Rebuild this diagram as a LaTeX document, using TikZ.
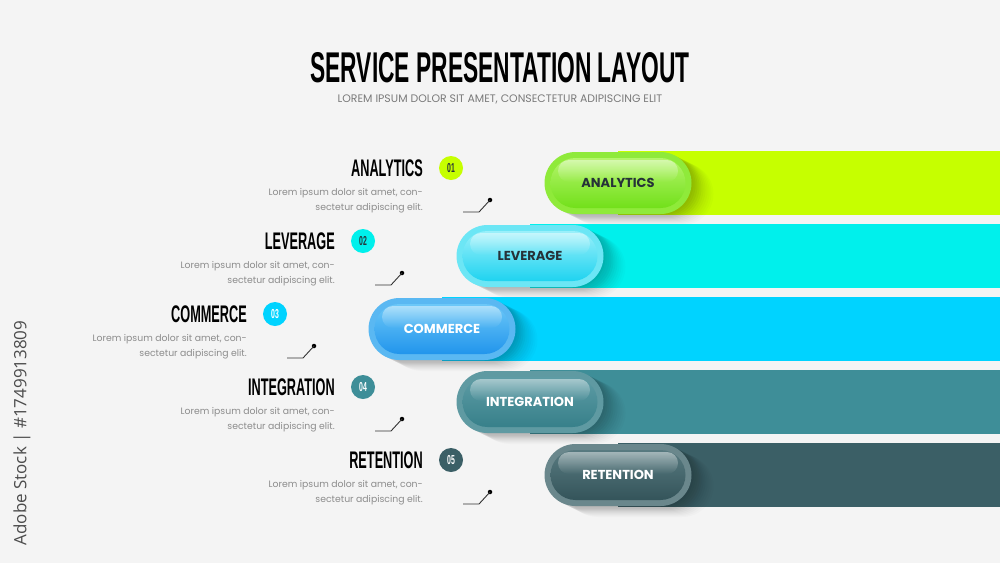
\documentclass[tikz,border=0pt]{standalone}
\usepackage{fontspec}
\setmainfont{Poppins}
\newfontfamily\headfont{Liberation Sans Bold}[FakeStretch=0.53]
\newfontfamily\stockfont{Open Sans}
\usetikzlibrary{shapes.misc,fadings}
\definecolor{bggrey}{HTML}{F4F4F4}
\definecolor{bodygrey}{HTML}{8C8C8C}
\definecolor{subgrey}{HTML}{7A7A7A}
\definecolor{darktext}{HTML}{263238}
\definecolor{limebar}{HTML}{C6FF00}
\definecolor{limerim}{HTML}{8FEA3A}
\definecolor{limetop}{HTML}{B4F56B}
\definecolor{limebot}{HTML}{72E01A}
\definecolor{aquabar}{HTML}{00F0EC}
\definecolor{aquarim}{HTML}{6CE6F5}
\definecolor{aquatop}{HTML}{9AF0FA}
\definecolor{aquabot}{HTML}{1FD3F0}
\definecolor{skybar}{HTML}{00D3FF}
\definecolor{skyrim}{HTML}{5AB8F2}
\definecolor{skytop}{HTML}{6CC8F8}
\definecolor{skybot}{HTML}{2195EC}
\definecolor{tealbar}{HTML}{3E8E98}
\definecolor{tealrim}{HTML}{5F9AA2}
\definecolor{tealtop}{HTML}{5E9CA5}
\definecolor{tealbot}{HTML}{37808A}
\definecolor{slatebar}{HTML}{3B5F66}
\definecolor{slaterim}{HTML}{6A878C}
\definecolor{slatetop}{HTML}{587A80}
\definecolor{slatebot}{HTML}{34545A}

\begin{document}
\begin{tikzpicture}[x=1pt,y=-1pt,
  pill/.style={rounded rectangle, minimum width=147pt, minimum height=62pt, inner sep=0pt,
    preaction={fill=black, opacity=0.03, transform canvas={xshift=2pt, yshift=-1pt}},
    preaction={fill=black, opacity=0.03, transform canvas={xshift=4pt, yshift=-2pt}},
    preaction={fill=black, opacity=0.03, transform canvas={xshift=6pt, yshift=-3pt}},
    preaction={fill=black, opacity=0.03, transform canvas={xshift=8pt, yshift=-4pt}},
    preaction={fill=black, opacity=0.03, transform canvas={xshift=10pt, yshift=-5pt}},
    preaction={fill=black, opacity=0.025, transform canvas={xshift=12pt, yshift=-6pt}},
    preaction={fill=black, opacity=0.025, transform canvas={xshift=14pt, yshift=-7pt}},
    preaction={fill=black, opacity=0.02, transform canvas={xshift=16pt, yshift=-8pt}},
    preaction={fill=black, opacity=0.02, transform canvas={xshift=18pt, yshift=-9pt}},
    preaction={fill=black, opacity=0.015, transform canvas={xshift=20pt, yshift=-10pt}},
    preaction={fill=black, opacity=0.015, transform canvas={xshift=22pt, yshift=-11pt}}},
  pillcore/.style={rounded rectangle, minimum width=135pt, minimum height=50pt, inner sep=0pt},
  gloss/.style={rounded rectangle, minimum width=120pt, minimum height=22pt, inner sep=0pt,
    fill=white, fill opacity=0.45, path fading=south},
  plabel/.style={inner sep=0pt, font=\bfseries\fontsize{13}{13}\selectfont},
  numdot/.style={circle, minimum size=24pt, inner sep=0pt, font=\headfont\fontsize{13}{13}\selectfont},
  headline/.style={anchor=east, inner sep=0pt, font=\headfont\fontsize{24}{24}\selectfont},
  blurb/.style={anchor=north east, align=right, inner sep=0pt, text=bodygrey, font=\fontsize{9.3}{15}\selectfont},
  tick/.style={draw=black!80, line width=0.9pt},
  tickdot/.style={circle, fill=black, minimum size=4.5pt, inner sep=0pt}]
  \fill[bggrey] (0,0) rectangle (1000,563);
  \useasboundingbox (0,0) rectangle (1000,563);

  \node (title) at (500,68) {\headfont\fontsize{43}{43}\selectfont SERVICE PRESENTATION LAYOUT};
  \node[text=subgrey] (subtitle) at (500,99) {\fontsize{10.9}{11}\selectfont LOREM IPSUM DOLOR SIT AMET, CONSECTETUR ADIPISCING ELIT};
  \node[rotate=90, text=black!70] (stock) at (22,433) {\stockfont\fontsize{17}{17}\selectfont Adobe Stock | \#1749913809};

  % analytics
  \fill[limebar] (618,151) rectangle (1000,215);
  \node[pill, fill=limerim] (p1) at (618,183) {};
  \node[pillcore, top color=limetop, bottom color=limebot] (c1) at (p1) {};
  \node[gloss] (g1) at ([yshift=12pt]p1) {};
  \node[plabel, text=darktext] (l1) at (p1) {ANALYTICS};
  \node[numdot, fill=limebar, text=darktext] (n1) at (451,168) {01};
  \node[headline] (h1) at (423,168) {ANALYTICS};
  \node[blurb] (b1) at (423,188) {Lorem ipsum dolor sit amet, con-\\sectetur adipiscing elit.};
  \coordinate (t1a) at (463,212);
  \coordinate (t1b) at (479,212);
  \node[tickdot] (d1) at (490,200) {};
  \draw[tick] (t1a) -- (t1b) -- (d1.center);

  % leverage
  \fill[aquabar] (530,224) rectangle (1000,288);
  \node[pill, fill=aquarim] (p2) at (530,256) {};
  \node[pillcore, top color=aquatop, bottom color=aquabot] (c2) at (p2) {};
  \node[gloss] (g2) at ([yshift=12pt]p2) {};
  \node[plabel, text=darktext] (l2) at (p2) {LEVERAGE};
  \node[numdot, fill=aquabar, text=darktext] (n2) at (363,241) {02};
  \node[headline] (h2) at (335,241) {LEVERAGE};
  \node[blurb] (b2) at (335,261) {Lorem ipsum dolor sit amet, con-\\sectetur adipiscing elit.};
  \coordinate (t2a) at (375,285);
  \coordinate (t2b) at (391,285);
  \node[tickdot] (d2) at (402,273) {};
  \draw[tick] (t2a) -- (t2b) -- (d2.center);

  % commerce
  \fill[skybar] (442,297) rectangle (1000,361);
  \node[pill, fill=skyrim] (p3) at (442,329) {};
  \node[pillcore, top color=skytop, bottom color=skybot] (c3) at (p3) {};
  \node[gloss] (g3) at ([yshift=12pt]p3) {};
  \node[plabel, text=white] (l3) at (p3) {COMMERCE};
  \node[numdot, fill=skybar, text=white] (n3) at (275,314) {03};
  \node[headline] (h3) at (247,314) {COMMERCE};
  \node[blurb] (b3) at (247,334) {Lorem ipsum dolor sit amet, con-\\sectetur adipiscing elit.};
  \coordinate (t3a) at (287,358);
  \coordinate (t3b) at (303,358);
  \node[tickdot] (d3) at (314,346) {};
  \draw[tick] (t3a) -- (t3b) -- (d3.center);

  % integration
  \fill[tealbar] (530,370) rectangle (1000,434);
  \node[pill, fill=tealrim] (p4) at (530,402) {};
  \node[pillcore, top color=tealtop, bottom color=tealbot] (c4) at (p4) {};
  \node[gloss] (g4) at ([yshift=12pt]p4) {};
  \node[plabel, text=white] (l4) at (p4) {INTEGRATION};
  \node[numdot, fill=tealbar, text=white] (n4) at (363,387) {04};
  \node[headline] (h4) at (335,387) {INTEGRATION};
  \node[blurb] (b4) at (335,407) {Lorem ipsum dolor sit amet, con-\\sectetur adipiscing elit.};
  \coordinate (t4a) at (375,431);
  \coordinate (t4b) at (391,431);
  \node[tickdot] (d4) at (402,419) {};
  \draw[tick] (t4a) -- (t4b) -- (d4.center);

  % retention
  \fill[slatebar] (618,443) rectangle (1000,507);
  \node[pill, fill=slaterim] (p5) at (618,475) {};
  \node[pillcore, top color=slatetop, bottom color=slatebot] (c5) at (p5) {};
  \node[gloss] (g5) at ([yshift=12pt]p5) {};
  \node[plabel, text=white] (l5) at (p5) {RETENTION};
  \node[numdot, fill=slatebar, text=white] (n5) at (451,460) {05};
  \node[headline] (h5) at (423,460) {RETENTION};
  \node[blurb] (b5) at (423,480) {Lorem ipsum dolor sit amet, con-\\sectetur adipiscing elit.};
  \coordinate (t5a) at (463,504);
  \coordinate (t5b) at (479,504);
  \node[tickdot] (d5) at (490,492) {};
  \draw[tick] (t5a) -- (t5b) -- (d5.center);
\end{tikzpicture}
\end{document}
